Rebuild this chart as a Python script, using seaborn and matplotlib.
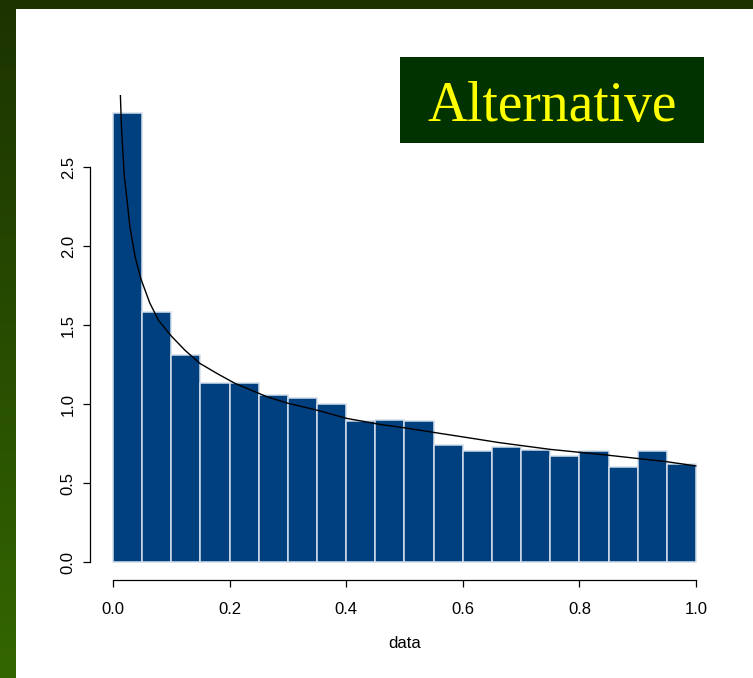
import numpy as np
import pandas as pd
import matplotlib
matplotlib.use("Agg")
import matplotlib.pyplot as plt
from matplotlib.patches import Rectangle
import seaborn as sns

# Histogram of the data: 20 bins of width 0.05 on [0, 1], density heights
bin_edges = [round(0.05 * i, 2) for i in range(21)]
bin_heights = [2.84, 1.58, 1.31, 1.13, 1.13, 1.06, 1.04, 1.00, 0.89, 0.90,
               0.89, 0.74, 0.70, 0.73, 0.71, 0.67, 0.70, 0.60, 0.70, 0.62]

# Density curve drawn over the histogram
curve_x = [0.0126, 0.0145, 0.0194, 0.0223, 0.029, 0.038, 0.048, 0.063, 0.078,
           0.100, 0.1235, 0.149, 0.180, 0.209, 0.264, 0.300, 0.349, 0.401,
           0.458, 0.499, 0.549, 0.600, 0.664, 0.750, 0.847, 0.950, 1.0]
curve_y = [2.96, 2.75, 2.44, 2.35, 2.12, 1.93, 1.79, 1.64, 1.53,
           1.43, 1.34, 1.257, 1.19, 1.131, 1.046, 1.005, 0.962, 0.909,
           0.871, 0.850, 0.821, 0.792, 0.755, 0.713, 0.677, 0.635, 0.608]

x_ticks = [0.0, 0.2, 0.4, 0.6, 0.8, 1.0]
y_ticks = [0.0, 0.5, 1.0, 1.5, 2.0, 2.5]
x_label = "data"
title_text = "Alternative"

sns.set_style("ticks")
plt.rcParams["font.family"] = ["Liberation Sans", "DejaVu Sans"]

W, H = 753, 678
fig = plt.figure(figsize=(W / 100, H / 100), dpi=100)

# Slide background: green gradient frame with a white panel
bg = fig.add_axes([0, 0, 1, 1], zorder=-10)
grad = np.linspace(0, 1, 256).reshape(-1, 1)
top_c = np.array([28, 51, 0]) / 255
bot_c = np.array([51, 102, 0]) / 255
img = top_c[None, None, :] * (1 - grad[..., None]) + bot_c[None, None, :] * grad[..., None]
bg.imshow(img, extent=[0, 1, 0, 1], aspect="auto", origin="upper")
bg.add_patch(Rectangle((16 / W, 0), 1 - 16 / W, (H - 9) / H,
                       transform=bg.transAxes, facecolor="white", edgecolor="none"))
bg.set_xlim(0, 1)
bg.set_ylim(0, 1)
bg.axis("off")

# Plot region (R-style 4% padding around the data range)
left_px, right_px, top_px, bot_px = 89.7, 719.3, 95.3, 580.0
ax = fig.add_axes([left_px / W, (H - bot_px) / H,
                   (right_px - left_px) / W, (bot_px - top_px) / H])
ax.set_facecolor("none")

centers = [(a + b) / 2 for a, b in zip(bin_edges[:-1], bin_edges[1:])]
df = pd.DataFrame({"x": centers, "h": bin_heights})
sns.histplot(data=df, x="x", weights="h", bins=bin_edges, ax=ax,
             color="#01407f", edgecolor="#d3deeb", linewidth=1.1, alpha=1.0)

cdf = pd.DataFrame({"x": curve_x, "y": curve_y})
sns.lineplot(data=cdf, x="x", y="y", ax=ax, color="black", linewidth=1.0,
             sort=False, estimator=None)

ymax = max(bin_heights)
ax.set_xlim(-0.04, 1.04)
ax.set_ylim(-0.04 * ymax, 1.04 * ymax)

for s in ["top", "right"]:
    ax.spines[s].set_visible(False)
ax.spines["bottom"].set_bounds(x_ticks[0], x_ticks[-1])
ax.spines["left"].set_bounds(y_ticks[0], y_ticks[-1])
for s in ["bottom", "left"]:
    ax.spines[s].set_linewidth(0.9)
    ax.spines[s].set_color("black")

ax.set_xticks(x_ticks)
ax.set_xticklabels([f"{v:.1f}" for v in x_ticks])
ax.set_yticks(y_ticks)
ax.set_yticklabels([f"{v:.1f}" for v in y_ticks], rotation=90, va="center")
ax.tick_params(axis="both", direction="out", length=5, width=0.9,
               labelsize=12, colors="black")
ax.tick_params(axis="x", pad=10.5)
ax.tick_params(axis="y", pad=5)
ax.set_xlabel(x_label, fontsize=12, labelpad=14, color="black")
ax.set_ylabel("")

# Title box in the upper right
tx0, tx1, ty0, ty1 = 400, 704, 56.7, 143.3
fig.patches.append(Rectangle((tx0 / W, 1 - ty1 / H), (tx1 - tx0) / W, (ty1 - ty0) / H,
                             transform=fig.transFigure, facecolor="#003300",
                             edgecolor="none", zorder=5))
fig.text(552 / W, 1 - 120.7 / H, title_text, ha="center", va="baseline",
         color="#ffff00", fontsize=40, family=["Liberation Serif", "DejaVu Serif"],
         zorder=6)

fig.savefig("out.png", dpi=100)
